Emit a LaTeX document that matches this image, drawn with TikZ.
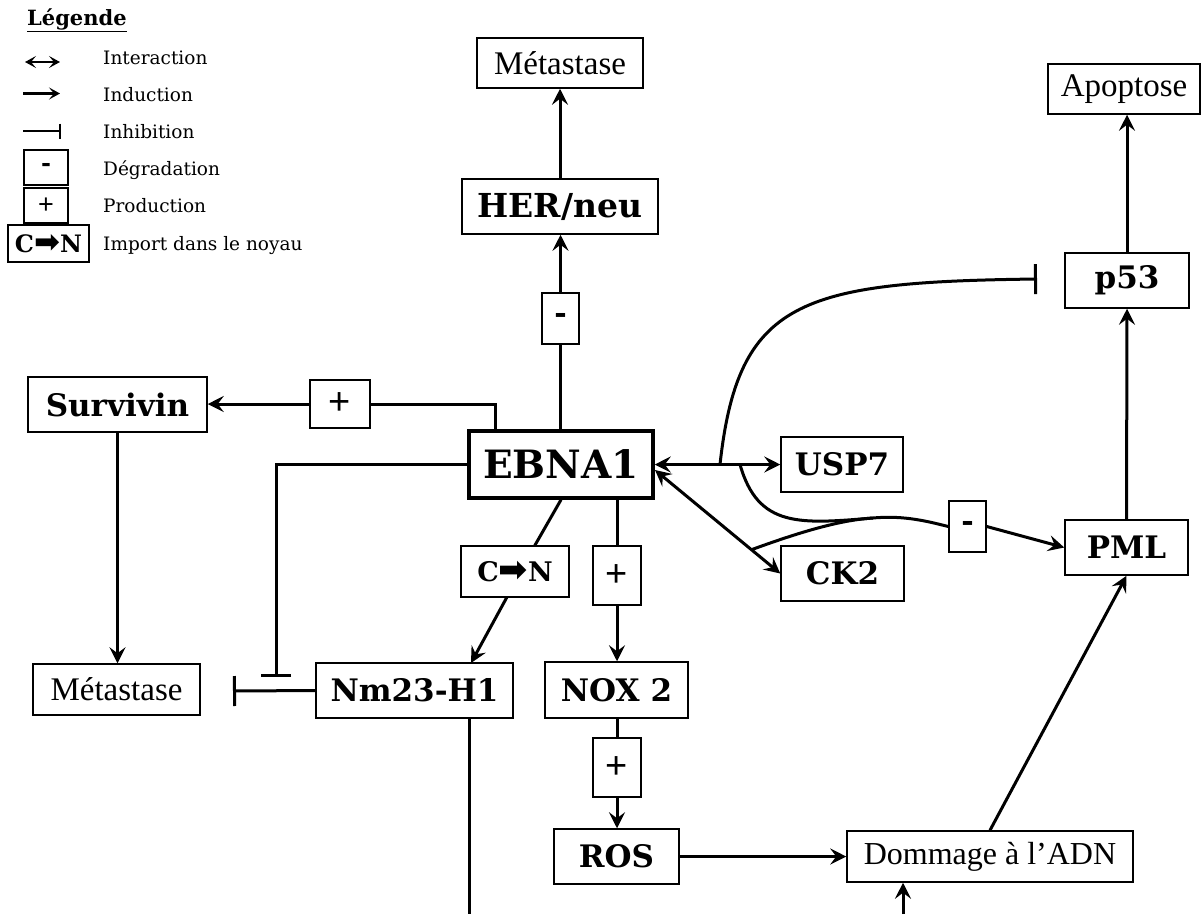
\documentclass[tikz,border=0pt]{standalone}
\usepackage{fontspec}
\usetikzlibrary{arrows.meta}
\setmainfont{DejaVu Serif}
\newfontfamily\tnr{Liberation Serif}
\newfontfamily\plusfont{Liberation Sans}
\newfontfamily\cnarrow{DejaVu Sans}

\begin{document}
\begin{tikzpicture}[x=1pt, y=-1pt,
	box/.style={draw, line width=1.5pt, fill=white, inner sep=0pt},
	gene/.style={box, minimum height=55pt, font=\bfseries\fontsize{31}{36}\selectfont},
	event/.style={box, minimum height=50pt, font=\tnr\fontsize{33}{38}\selectfont},
	plus/.style={box, minimum width=48pt, minimum height=59pt, font=\plusfont\fontsize{38}{40}\selectfont},
	minus/.style={box, minimum width=37pt, minimum height=51pt, font=\bfseries\fontsize{30}{32}\selectfont},
	link/.style={line width=3pt},
	ind/.style={link, -{Stealth[length=16pt, width=16pt, inset=6pt]}},
	inter/.style={link, {Stealth[length=16pt, width=16pt, inset=6pt]}-{Stealth[length=16pt, width=16pt, inset=6pt]}},
	inh/.style={link, -{Bar[width=30pt]}},
	legtext/.style={anchor=base west, inner sep=0pt, font=\fontsize{18.5}{20}\selectfont},
	leglink/.style={line width=2.4pt},
	legbox/.style={draw, line width=1.3pt, inner sep=0pt},
]
	\useasboundingbox (0,0) rectangle (1202,914);

	% legende
	\node [legtext, font=\bfseries\fontsize{21}{22}\selectfont] (legTitle) at (27,25) {\underline{Légende}};

	\coordinate (legI1) at (25,62);
	\coordinate (legI2) at (60,62);
	\draw [leglink, {Stealth[length=11pt, width=12pt, inset=5pt]}-{Stealth[length=11pt, width=12pt, inset=5pt]}] (legI1) -- (legI2);
	\node [legtext] (legInter) at (103,64) {Interaction};

	\coordinate (legA1) at (23,93.5);
	\coordinate (legA2) at (60,93.5);
	\draw [leglink, -{Stealth[length=11pt, width=12pt, inset=5pt]}] (legA1) -- (legA2);
	\node [legtext] (legInd) at (103,101) {Induction};

	\coordinate (legB1) at (23,131);
	\coordinate (legB2) at (61,131);
	\draw [leglink, -{Bar[width=15pt]}] (legB1) -- (legB2);
	\node [legtext] (legInh) at (103,138) {Inhibition};

	\node [legbox, minimum width=44pt, minimum height=35pt, font=\bfseries\fontsize{24}{26}\selectfont] (legMinus) at (46,167.5) {-};
	\node [legtext] (legDeg) at (103,175) {Dégradation};

	\node [legbox, minimum width=44pt, minimum height=35pt, font=\plusfont\fontsize{27}{28}\selectfont] (legPlus) at (46,205.5) {+};
	\node [legtext] (legProd) at (103,212) {Production};

	\node [legbox, minimum width=81pt, minimum height=37pt, font=\bfseries\fontsize{24}{28}\selectfont] (legCn) at (48.5,243.5) {C{\cnarrow\fontsize{31}{28}\selectfont ➡}N};
	\node [legtext] (legImp) at (103,250) {Import dans le noyau};

	% noeuds
	\node [event, minimum width=166pt] (metTop) at (560,63) {Métastase};
	\node [gene, minimum width=196pt, font=\bfseries\fontsize{33}{36}\selectfont] (her) at (560,206.5) {HER/neu};
	\node [minus] (minusHer) at (560.5,318.5) {-};
	\node [event, minimum width=152pt] (apop) at (1124,89) {Apoptose};
	\node [gene, minimum width=124pt] (p53) at (1127,280.5) {p53};
	\node [gene, minimum width=179pt] (surv) at (117.5,404.5) {Survivin};
	\node [plus, minimum width=60pt, minimum height=48pt] (plusSurv) at (340,404) {+};
	\node [gene, minimum width=184pt, minimum height=67pt, line width=3.5pt,
		font=\bfseries\fontsize{39}{44}\selectfont] (ebna) at (561,464.5) {EBNA1};
	\node [gene, minimum width=122pt] (usp) at (842,464.5) {USP7};
	\node [gene, minimum width=123pt] (ck) at (842.5,573.5) {CK2};
	\node [minus] (minusPml) at (967.5,526.5) {-};
	\node [gene, minimum width=123pt] (pml) at (1126.5,547.5) {PML};
	\node [box, minimum width=108pt, minimum height=51pt,
		font=\bfseries\fontsize{27}{32}\selectfont] (cn) at (515,571.5) {C{\cnarrow\fontsize{35}{32}\selectfont ➡}N};
	\node [plus] (plusNox) at (617,575.5) {+};
	\node [event, minimum width=167pt, minimum height=51pt] (metLeft) at (116.5,689.5) {Métastase};
	\node [gene, minimum width=197pt] (nm) at (414.5,690.5) {Nm23-H1};
	\node [gene, minimum width=143pt, minimum height=56pt] (nox) at (616.5,690) {NOX 2};
	\node [plus] (plusRos) at (617,767.5) {+};
	\node [gene, minimum width=125pt] (ros) at (616.5,856.5) {ROS};
	\node [event, minimum width=286pt, minimum height=51pt, font=\tnr\fontsize{32}{38}\selectfont] (dna) at (990,856.5) {Dommage à l’ADN};

	% points libres
	\coordinate (survTurn) at (495,404);
	\coordinate (inhTurn) at (276,464.5);
	\coordinate (inhEnd) at (276,677);
	\coordinate (metBar) at (233,691);
	\coordinate (cnIn) at (534.5,546);
	\coordinate (cnOut) at (507,597);
	\coordinate (nmIn) at (471,663);
	\coordinate (nmDown) at (469,914);
	\coordinate (dnaUp) at (903,914);
	\coordinate (ebnaCk) at (655,470);
	\coordinate (p53Start) at (720,464.5);
	\coordinate (p53Bar) at (1037,279);
	\coordinate (uspBranch) at (740,464.5);
	\coordinate (ckBranch) at (752,549.5);
	\coordinate (merge) at (873,518);

	% HER/neu
	\draw [link] (ebna.north -| minusHer.south) -- (minusHer.south);
	\draw [ind] (minusHer.north) -- (minusHer.north |- her.south);
	\draw [ind] (her.north) -- (her.north |- metTop.south);

	% Survivin
	\draw [link] (ebna.north -| survTurn) -- (survTurn) -- (plusSurv.east);
	\draw [ind] (plusSurv.west) -- (plusSurv.west -| surv.east);
	\draw [ind] (surv.south) -- (surv.south |- metLeft.north);

	% inhibitions a gauche
	\draw [inh] (ebna.west) -- (inhTurn) -- (inhEnd);
	\draw [inh] (nm.west) -- (metBar);

	% Nm23-H1
	\draw [link] (ebna.south) -- (cnIn);
	\draw [ind] (cnOut) -- (nmIn);
	\draw [link] (nm.south -| nmDown) -- (nmDown);

	% NOX 2 et ROS
	\draw [link] (ebna.south -| plusNox.north) -- (plusNox.north);
	\draw [ind] (plusNox.south) -- (plusNox.south |- nox.north);
	\draw [link] (nox.south -| plusRos.north) -- (plusRos.north);
	\draw [ind] (plusRos.south) -- (plusRos.south |- ros.north);
	\draw [ind] (ros) -- (dna);
	\draw [ind] (dnaUp) -- (dnaUp |- dna.south);

	% USP7, CK2, p53, PML
	\draw [inter] (ebna.east) -- (usp.west);
	\draw [inter] (ebnaCk) -- (ck.west);
	\draw [inh] (p53Start) .. controls (738,300) and (800,282) .. (p53Bar);
	\draw [link] (uspBranch) .. controls (758,528) and (800,524) .. (merge)
		.. controls (905,515) and (930,522) .. (minusPml.west);
	\draw [link] (ckBranch) .. controls (800,532) and (840,520) .. (merge);
	\draw [ind] (minusPml.east) -- (pml.west);

	\draw [ind] (dna.north) -- (pml.south);
	\draw [ind] (pml.north) -- (p53.south);
	\draw [ind] (p53.north) -- (p53.north |- apop.south);
\end{tikzpicture}
\end{document}
